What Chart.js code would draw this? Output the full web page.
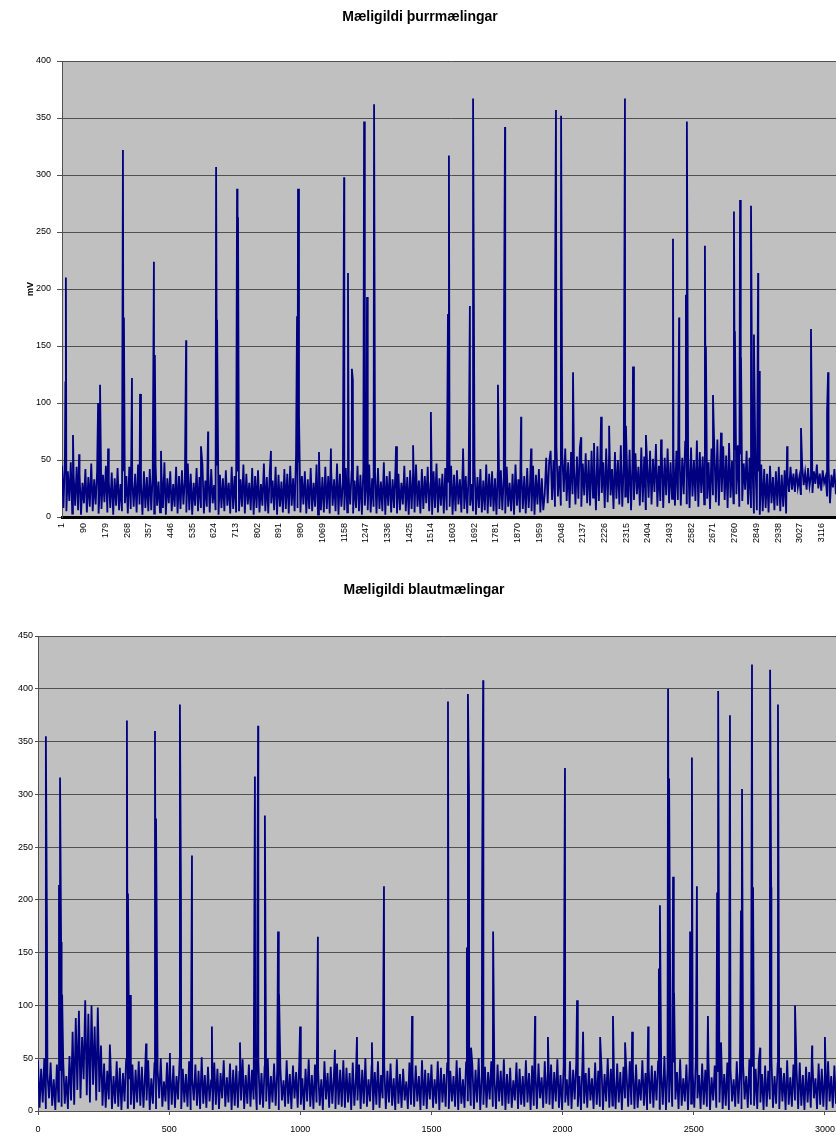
<!DOCTYPE html>
<html>
<head>
<meta charset="utf-8">
<title>Mæligildi</title>
<script src="https://cdn.jsdelivr.net/npm/chart.js@4.4.0/dist/chart.umd.min.js"></script>
<style>
  html, body { margin: 0; padding: 0; background: #fff; overflow: hidden; width: 836px; height: 1140px; }
  .box { position: absolute; left: 0; }
  #dryBox { top: 0; width: 840px; height: 572px; }
  #wetBox { top: 572px; width: 848px; height: 568px; }
</style>
</head>
<body>
<div class="box" id="dryBox"><canvas id="dryChart"></canvas></div>
<div class="box" id="wetBox"><canvas id="wetChart"></canvas></div>
<script>
(() => {
  const FONT = "'Liberation Sans', Arial, sans-serif";

  // --- DATA: þurrmælingar (one value every 6th sample, mV) ---
  const dryStep = 6;
  const dryA = [45,8,52,5,40,14,48,3,36,10, 44,6,38,2,30,12,42,4,35,9, 47,5,33,11,40,3,28,7,37,13,
                45,4,31,8,39,2,34,10,43,6, 29,5,41,12,36,3,44,7,32,9, 38,4,46,11,30,2,40,8,35,5];
  const dryB = [42,6,37,3,45,10,31,4,39,8, 48,2,34,12,40,5,29,9,44,3, 36,7,41,11,33,4,47,6,38,2,
                30,10,43,5,35,8,46,3,32,9, 39,4,42,12,28,6,45,2,37,8, 34,5,41,10,30,3,44,7,36,4];
  const dryC = [40,5,33,9,46,3,38,11,30,6, 43,2,36,8,41,4,29,10,47,5, 35,3,39,12,32,6,44,2,37,9,
                31,4,42,7,38,3,45,10,34,5, 55,8,48,4,36,11,40,3,33,7, 43,5,30,9,46,2,38,6,35,4];
  const dryD = [44,7,36,3,41,10,33,5,47,2, 38,9,30,6,43,4,35,11,40,3, 32,8,45,5,37,2,42,10,29,6,
                46,4,34,9,39,3,43,7,31,5, 48,2,36,10,40,4,33,8,44,3, 38,6,30,11,45,5,35,2,41,7];
  const dryE = [39,4,46,9,32,3,42,7,36,12, 44,5,30,2,40,8,47,4,34,10, 38,3,43,6,31,9,45,2,37,5,
                41,11,33,4,48,7,36,3,39,10, 29,5,44,2,35,8,42,4,32,6, 46,3,38,9,40,5,34,2,43,7];
  const dryF = [41,6,35,3,44,9,30,5,38,2, 46,10,33,4,40,7,36,3,43,8, 31,5,45,2,37,11,42,4,34,6,
                20,52,12,48,58,15,50,9,62,18, 45,10,55,22,60,14,48,8,57,20, 44,11,53,16,61,9,47,19,56,12];
  const dryG = [50,10,58,17,45,6,62,14,52,21, 48,8,60,13,55,19,42,7,57,16, 50,11,63,9,46,18,54,12,59,6,
                49,15,56,20,44,10,61,13,53,7, 47,17,58,11,51,22,64,9,45,14, 57,8,52,19,60,12,48,16,55,10];
  const dryH = [58,15,63,10,52,20,66,12,55,8, 61,18,50,14,67,9,57,21,53,11, 64,16,48,7,60,19,56,13,68,10,
                51,22,62,15,54,8,65,17,49,12, 59,20,63,9,55,14,47,24,58,11, 52,8,44,3,48,6,40,2,46,5];
  const dryI = [42,8,38,4,45,12,35,6,40,10, 44,5,37,9,41,3,36,22,44,24, 38,22,42,26,35,20,45,28,39,24,
                43,27,36,21,40,29,46,25,38,23, 41,30,35,18,44,12,37,26,42,20, 39,8,45,15,36,22,43,10,40,19];
  // [sample number, mV]
  const drySpikes = [[15,118],[17,210],[46,72],[71,55],[149,100],[157,116],[190,60],[251,322],[255,175],
    [288,122],[321,108],[378,224],[382,142],[407,58],[510,155],[571,62],[600,75],[633,307],[637,173],
    [719,288],[723,263],[858,58],[965,176],[969,288],[973,90],[1055,57],[1104,60],[1158,298],[1174,214],
    [1190,130],[1194,120],[1240,347],[1252,193],[1281,362],[1371,62],[1441,63],[1514,92],[1584,178],
    [1588,317],[1646,60],[1674,185],[1687,367],[1789,116],[1814,172],[1818,342],[1884,88],[1925,60],
    [2023,178],[2027,357],[2048,352],[2097,127],[2130,70],[2183,65],[2212,88],[2245,80],[2310,367],
    [2314,80],[2343,132],[2396,72],[2458,68],[2507,244],[2532,175],[2560,195],[2564,347],[2638,238],
    [2642,150],[2671,107],[2704,74],[2757,268],[2761,163],[2782,278],[2786,140],[2827,273],[2839,160],
    [2856,214],[2860,128],[2975,62],[3032,78],[3073,165],[3139,92],[3143,127]];
  const dryXTicks = [1,90,179,268,357,446,535,624,713,802,891,980,1069,1158,1247,1336,1425,1514,1603,
    1692,1781,1870,1959,2048,2137,2226,2315,2404,2493,2582,2671,2760,2849,2938,3027,3116];
  const dryYTicks = [0,50,100,150,200,250,300,350,400];

  // --- DATA: blautmælingar (one value every 6th sample, mV) ---
  const wetStep = 6;
  const wetA = [48,3,40,8,50,2,35,12,46,5, 30,1,44,9,38,4,49,7,33,2, 52,10,75,6,88,20,95,12,70,30,
                105,15,92,8,100,25,80,10,98,18, 62,5,45,3,38,11,50,2,33,7, 47,4,41,1,36,9,49,3,30,6, 44,2,39,8,47];
  const wetB = [5,42,3,36,10,48,1,31,7,45, 2,39,12,50,4,28,9,46,1,37, 6,43,3,33,11,49,2,40,8,35,
                4,47,1,30,10,44,5,38,2,51, 7,34,3,42,9,29,1,46,6,40, 2,36,12,48,4,32,8,45,1,39, 5,43,3,37,10];
  const wetC = [49,2,34,7,44,4,39,11,30,1, 47,6,36,3,42,9,50,2,33,8, 45,5,38,1,41,10,29,4,48,7,
                35,2,43,12,37,3,46,6,31,1, 40,9,49,4,34,2,44,8,38,5, 30,1,47,11,36,3,42,7,33,2, 45,6,39,4,48];
  const wetD = [3,41,8,36,1,46,5,32,10,44, 2,39,7,50,4,30,9,43,1,37, 6,47,3,34,12,42,2,38,8,45,
                5,31,1,49,7,35,3,40,10,28, 2,46,6,37,4,43,9,33,1,48, 5,39,2,36,11,44,3,30,7,47, 1,41,8,35,4];
  const wetE = [45,2,38,9,33,4,48,1,41,7, 30,3,46,10,36,5,43,2,39,8, 50,1,34,6,42,3,37,11,47,4,
                31,2,44,9,38,5,49,1,35,7, 41,3,29,10,46,2,40,6,33,4, 48,8,36,1,43,5,39,2,45,12, 32,3,47,7,38];
  const wetF = [6,44,2,37,9,49,3,34,1,42, 8,30,5,47,2,39,11,45,4,33, 1,48,7,36,3,41,10,31,2,46,
                6,38,4,43,1,35,9,50,3,40, 5,32,2,45,8,37,1,42,12,34, 4,47,6,39,2,44,3,30,10,48, 5,36,1,41,7];
  const wetG = [43,3,38,10,47,2,35,6,52,1, 40,8,33,4,46,11,37,2,49,5, 31,9,44,1,41,7,36,3,50,12,
                34,2,45,6,39,4,48,1,32,10, 43,3,37,8,51,2,35,5,46,1, 40,9,30,4,47,7,38,2,44,11, 33,3,49,6,42];
  const wetH = [5,40,2,47,8,35,1,43,4,38, 11,50,3,33,7,45,2,41,9,36, 1,48,6,32,4,44,10,39,2,46,
                5,34,1,42,8,37,3,49,12,31, 2,45,6,40,4,36,1,47,9,33, 3,43,7,38,2,50,5,35,10,44, 1,39,6,46,3];
  const wetSpikes = [[30,355],[34,178],[80,214],[84,316],[88,160],[92,110],[274,63],[339,370],[343,206],
    [351,110],[412,64],[446,360],[450,277],[503,55],[541,385],[545,206],[587,242],[663,80],[770,65],
    [827,317],[839,365],[865,280],[915,170],[919,110],[999,80],[1067,165],[1132,58],[1216,70],[1273,65],
    [1319,213],[1426,90],[1563,388],[1635,155],[1639,395],[1643,300],[1651,60],[1693,205],[1697,408],
    [1735,170],[1895,90],[1944,70],[2009,325],[2055,105],[2078,75],[2143,70],[2192,90],[2238,65],
    [2265,75],[2326,80],[2367,135],[2371,195],[2402,400],[2406,315],[2421,222],[2425,112],[2486,170],
    [2493,335],[2512,213],[2554,90],[2589,207],[2593,398],[2604,65],[2638,375],[2680,190],[2684,305],
    [2722,423],[2726,212],[2753,60],[2791,418],[2795,212],[2821,385],[2886,100],[2951,62],[3000,70]];
  const wetXTicks = [0,500,1000,1500,2000,2500,3000];
  const wetYTicks = [0,50,100,150,200,250,300,350,400,450];

  // --- BUILD ---
  function buildSeries(segs, first, step, spikes) {
    const pts = [];
    let i = 0;
    segs.forEach(seg => seg.forEach(v => { pts.push({ x: first + i * step, y: v }); i++; }));
    spikes.forEach(([x, y]) => pts.push({ x, y }));
    return pts.sort((a, b) => a.x - b.x);
  }

  const plotBg = {
    id: 'plotBg',
    beforeDraw(chart) {
      const { ctx, chartArea: { left, top, width, height } } = chart;
      ctx.save();
      ctx.fillStyle = '#c0c0c0';
      ctx.fillRect(left, top, width, height);
      ctx.restore();
    }
  };

  const tickFont = { family: FONT, size: 9 };

  function makeChart(id, o) {
    return new Chart(document.getElementById(id), {
      type: 'line',
      data: {
        datasets: [{
          data: o.points, borderColor: '#000080', borderWidth: 1.8,
          pointRadius: 0, tension: 0, fill: false
        }]
      },
      options: {
        animation: false, responsive: true, maintainAspectRatio: false,
        parsing: false, normalized: true,
        layout: { padding: 0 },
        plugins: {
          legend: { display: false }, tooltip: { enabled: false },
          title: {
            display: true, text: o.title, color: '#000',
            font: { family: FONT, size: 14, weight: 'bold' },
            padding: o.titlePad
          }
        },
        scales: {
          x: {
            type: 'linear', min: o.xMin, max: o.xMax,
            afterBuildTicks: (s) => { s.ticks = o.xTicks.map(v => ({ value: v })); },
            afterFit: (s) => { s.height = o.xHeight; },
            grid: o.xGrid,
            border: o.xBorder,
            ticks: {
              autoSkip: false, minRotation: o.xRot, maxRotation: o.xRot, padding: o.xPad,
              color: '#000', font: tickFont, callback: (v) => String(v)
            }
          },
          y: {
            min: 0, max: o.yMax,
            afterBuildTicks: (s) => { s.ticks = o.yTicks.map(v => ({ value: v })); },
            afterFit: (s) => { s.width = o.yWidth; },
            grid: { color: '#505050', lineWidth: 1, drawTicks: true, tickLength: o.yTickLen },
            border: { color: '#505050', width: 1 },
            ticks: { padding: o.yPad, color: '#000', font: tickFont, callback: (v) => String(v) },
            title: o.yTitle
          }
        }
      },
      plugins: [plotBg]
    });
  }

  makeChart('dryChart', {
    title: 'Mæligildi þurrmælingar',
    titlePad: { top: 9, bottom: 35.2 },
    points: buildSeries([dryA, dryB, dryC, dryD, dryE, dryF, dryG, dryH, dryI], 1, dryStep, drySpikes),
    xMin: 1, xMax: 3192, xTicks: dryXTicks, xHeight: 55, xRot: 90, xPad: 6,
    xGrid: { display: false, drawTicks: false },
    xBorder: { display: true, color: '#000', width: 3 },
    yMax: 400, yTicks: dryYTicks, yWidth: 62, yTickLen: 5, yPad: 6,
    yTitle: {
      display: true, text: 'mV', color: '#000',
      font: { family: FONT, size: 9, weight: 'bold' }, padding: { top: 25, bottom: 0 }
    }
  });

  makeChart('wetChart', {
    title: 'Mæligildi blautmælingar',
    titlePad: { top: 10, bottom: 37.2 },
    points: buildSeries([wetA, wetB, wetC, wetD, wetE, wetF, wetG, wetH], 0, wetStep, wetSpikes),
    xMin: 0, xMax: 3088, xTicks: wetXTicks, xHeight: 29, xRot: 0, xPad: 9,
    xGrid: { display: true, drawOnChartArea: false, drawTicks: true, tickLength: 4, color: '#505050' },
    xBorder: { display: true, color: '#505050', width: 1 },
    yMax: 450, yTicks: wetYTicks, yWidth: 38, yTickLen: 3, yPad: 2,
    yTitle: { display: false }
  });
})();
</script>
</body>
</html>
